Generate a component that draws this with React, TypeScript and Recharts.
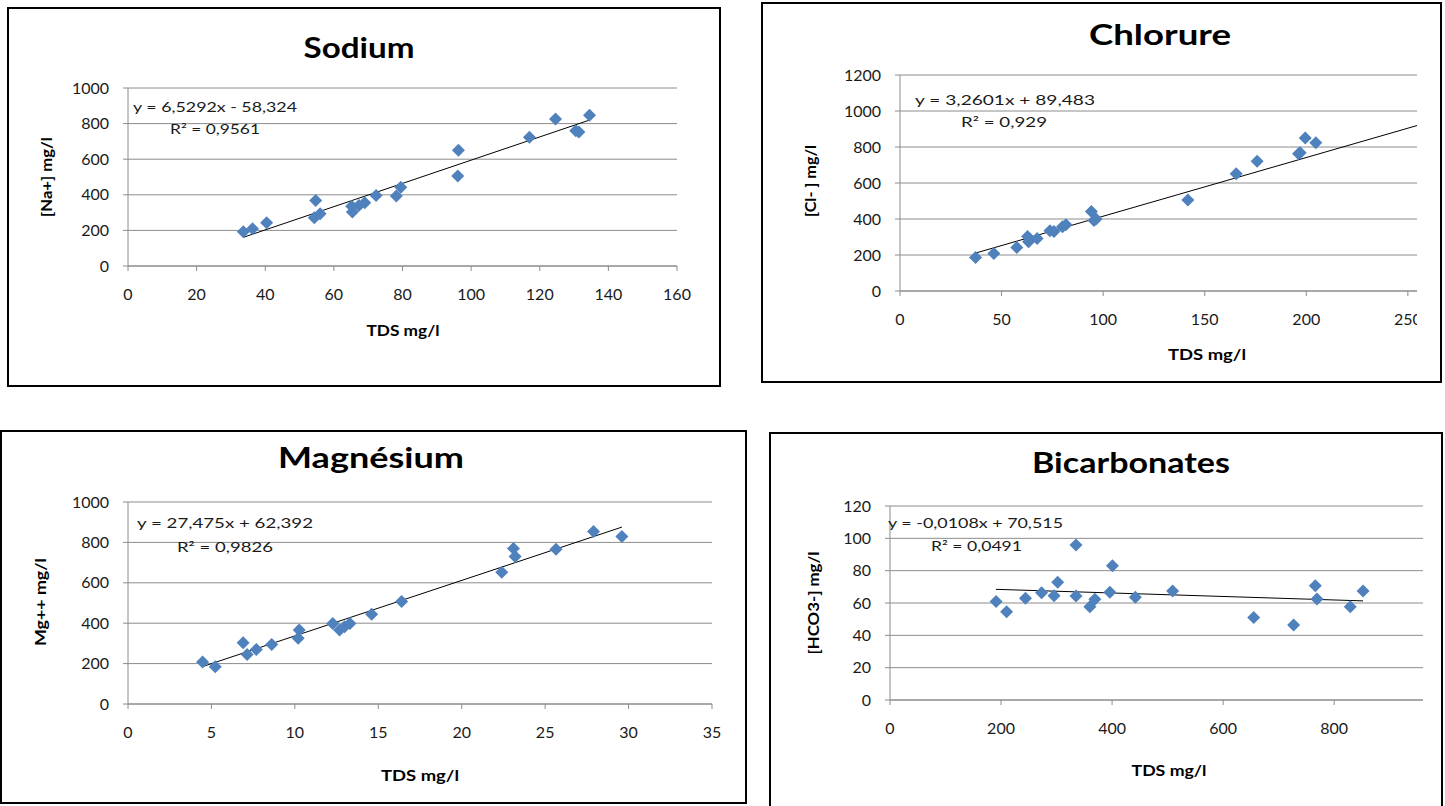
import { ScatterChart, Scatter, XAxis, YAxis, CartesianGrid, ReferenceLine } from "recharts";

// Sodium
const sodiumX = [33.6, 36.3, 40.4, 54.7, 54.3, 56.0, 65.4, 65.2, 67.3, 69.0, 72.3, 78.2, 79.5, 96.1, 96.3, 117.0, 124.6, 130.5, 131.4, 134.5];
const sodiumY = [192, 209, 243, 368, 271, 293, 303, 336, 340, 355, 396, 393, 443, 505, 650, 723, 826, 760, 753, 847];
const sodiumTicksX = [0, 20, 40, 60, 80, 100, 120, 140, 160];
const sodiumTicksY = [0, 200, 400, 600, 800, 1000];

// Chlorure
const chlorureX = [37.2, 46.2, 57.5, 62.8, 63.3, 67.5, 73.8, 75.8, 80.0, 81.7, 94.2, 95.5, 96.5, 141.7, 165.5, 175.8, 196.2, 197.0, 199.5, 204.7];
const chlorureY = [186, 208, 242, 303, 273, 292, 335, 331, 357, 368, 441, 391, 400, 506, 651, 721, 763, 768, 850, 824];
const chlorureTicksX = [0, 50, 100, 150, 200, 250];
const chlorureTicksY = [0, 200, 400, 600, 800, 1000, 1200];

// Magnésium
const magnesiumX = [4.47, 5.23, 6.9, 7.14, 7.69, 8.61, 10.2, 10.26, 12.27, 12.68, 12.98, 13.3, 14.6, 16.4, 22.4, 23.1, 23.2, 25.65, 27.9, 29.6];
const magnesiumY = [208, 184, 303, 245, 270, 295, 326, 366, 399, 366, 382, 399, 444, 507, 652, 770, 730, 766, 854, 829];
const magnesiumTicksX = [0, 5, 10, 15, 20, 25, 30, 35];
const magnesiumTicksY = [0, 200, 400, 600, 800, 1000];

// Bicarbonates
const bicarbX = [191, 210, 244, 273, 295.5, 302, 335, 335, 360, 369, 396, 400.6, 442, 509, 655, 727, 766, 769, 829, 852];
const bicarbY = [61, 54.6, 62.9, 66.4, 64.5, 72.8, 95.9, 64.3, 57.7, 62.3, 66.6, 83.1, 63.5, 67.4, 51.1, 46.4, 70.7, 62.5, 57.7, 67.4];
const bicarbTicksX = [0, 200, 400, 600, 800];
const bicarbTicksY = [0, 20, 40, 60, 80, 100, 120];

const BLUE = "#4F81BD";
const GRID = "#8c8c8c";
const INK = "#1a1a1a";
const FONT = "Lato, 'Open Sans', sans-serif";

function Diamond(props: any) {
  const { cx, cy } = props;
  const r = 6.5;
  return (
    <polygon
      points={`${cx},${cy - r} ${cx + r},${cy} ${cx},${cy + r} ${cx - r},${cy}`}
      fill={BLUE}
    />
  );
}

// text box: [x, y, length] (x is centre unless noted)
type Box = [number, number, number];

interface PanelProps {
  title: string;
  xLabel: string;
  yLabel: string;
  eq: string;
  r2: string;
  frame: { left: number; top: number; width: number; height: number };
  plot: { x0: number; x1: number; y0: number; y1: number };
  xs: number[];
  ys: number[];
  xDomain: [number, number];
  yDomain: [number, number];
  xTicks: number[];
  yTicks: number[];
  slope: number;
  intercept: number;
  trendTo?: number;
  titleBox: Box;
  yLabelBox: Box;
  xLabelBox: Box;
  eqBox: Box; // x = left
  r2Box: Box; // x = left
  clipRight?: boolean;
}

function Panel(p: PanelProps) {
  const data = p.xs.map((x, i) => ({ x, y: p.ys[i] }));
  const from = Math.min(...p.xs);
  const to = p.trendTo ?? Math.max(...p.xs);
  const chartLeft = p.plot.x0 - 90;
  const chartTop = p.plot.y0 - 12;
  // the Chlorure chart is cut at its right edge, like the original picture
  const rightPad = p.clipRight ? 0 : 26;
  const width = p.plot.x1 - chartLeft + rightPad;
  const height = p.plot.y1 - chartTop + 50;
  const tickStyle = { fill: INK, fontSize: 16, fontFamily: FONT };
  return (
    <>
      <div
        style={{
          position: "absolute",
          left: p.frame.left,
          top: p.frame.top,
          width: p.frame.width,
          height: p.frame.height,
          border: "2px solid #000",
          boxSizing: "border-box",
        }}
      />
      <div style={{ position: "absolute", left: chartLeft, top: chartTop, width, height, overflow: "hidden" }}>
        <ScatterChart width={width} height={height} margin={{ top: 12, right: rightPad, bottom: 0, left: 0 }}>
          <CartesianGrid vertical={false} stroke={GRID} strokeWidth={1} />
          <XAxis
            type="number"
            dataKey="x"
            domain={p.xDomain}
            ticks={p.xTicks}
            interval={0}
            allowDataOverflow
            height={50}
            tickSize={5}
            tickMargin={18}
            axisLine={{ stroke: GRID }}
            tickLine={{ stroke: GRID }}
            tick={tickStyle}
          />
          <YAxis
            type="number"
            dataKey="y"
            domain={p.yDomain}
            ticks={p.yTicks}
            interval={0}
            allowDataOverflow
            width={90}
            tickSize={5}
            tickMargin={14}
            axisLine={{ stroke: GRID }}
            tickLine={{ stroke: GRID }}
            tick={tickStyle}
          />
          <Scatter data={data} shape={Diamond} isAnimationActive={false} />
          <ReferenceLine
            segment={[
              { x: from, y: p.slope * from + p.intercept },
              { x: to, y: p.slope * to + p.intercept },
            ]}
            stroke="#000"
            strokeWidth={1}
          />
        </ScatterChart>
      </div>
      <svg
        width={1445}
        height={806}
        style={{ position: "absolute", left: 0, top: 0, pointerEvents: "none" }}
        fontFamily={FONT}
      >
        <text
          x={p.titleBox[0]}
          y={p.titleBox[1]}
          textAnchor="middle"
          dominantBaseline="central"
          fontSize={28}
          fontWeight={700}
          fill="#000"
          textLength={p.titleBox[2]}
          lengthAdjust="spacingAndGlyphs"
        >
          {p.title}
        </text>
        <text
          x={p.xLabelBox[0]}
          y={p.xLabelBox[1]}
          textAnchor="middle"
          dominantBaseline="central"
          fontSize={15}
          fontWeight={700}
          fill="#000"
          textLength={p.xLabelBox[2]}
          lengthAdjust="spacingAndGlyphs"
        >
          {p.xLabel}
        </text>
        <text
          transform={`translate(${p.yLabelBox[0]},${p.yLabelBox[1]}) rotate(-90)`}
          textAnchor="middle"
          dominantBaseline="central"
          fontSize={15}
          fontWeight={700}
          fill="#000"
          textLength={p.yLabelBox[2]}
          lengthAdjust="spacingAndGlyphs"
        >
          {p.yLabel}
        </text>
        <text
          x={p.eqBox[0]}
          y={p.eqBox[1]}
          dominantBaseline="central"
          fontSize={14}
          fill={INK}
          textLength={p.eqBox[2]}
          lengthAdjust="spacingAndGlyphs"
        >
          {p.eq}
        </text>
        <text
          x={p.r2Box[0]}
          y={p.r2Box[1]}
          dominantBaseline="central"
          fontSize={14}
          fill={INK}
          textLength={p.r2Box[2]}
          lengthAdjust="spacingAndGlyphs"
        >
          {p.r2}
        </text>
      </svg>
    </>
  );
}

export default function App() {
  return (
    <div style={{ position: "absolute", left: 0, top: 0, width: 1445, height: 806, overflow: "hidden", background: "#fff" }}>
      <Panel
        title="Sodium"
        xLabel="TDS mg/l"
        yLabel="[Na+] mg/l"
        eq="y = 6,5292x - 58,324"
        r2="R² = 0,9561"
        frame={{ left: 7, top: 7, width: 714, height: 380 }}
        plot={{ x0: 128, x1: 677, y0: 88, y1: 266 }}
        xs={sodiumX}
        ys={sodiumY}
        xDomain={[0, 160]}
        yDomain={[0, 1000]}
        xTicks={sodiumTicksX}
        yTicks={sodiumTicksY}
        slope={6.5292}
        intercept={-58.324}
        titleBox={[359, 47, 111]}
        yLabelBox={[46, 177, 80]}
        xLabelBox={[403, 330, 73]}
        eqBox={[133, 106, 164]}
        r2Box={[170, 128, 90]}
      />
      <Panel
        title="Chlorure"
        xLabel="TDS mg/l"
        yLabel="[Cl- ] mg/l"
        eq="y = 3,2601x + 89,483"
        r2="R² = 0,929"
        frame={{ left: 761, top: 2, width: 681, height: 381 }}
        plot={{ x0: 900, x1: 1417, y0: 75, y1: 291 }}
        xs={chlorureX}
        ys={chlorureY}
        xDomain={[0, 254.5]}
        yDomain={[0, 1200]}
        xTicks={chlorureTicksX}
        yTicks={chlorureTicksY}
        slope={3.2601}
        intercept={89.483}
        trendTo={254.5}
        clipRight
        titleBox={[1160, 34, 142]}
        yLabelBox={[810, 181, 72]}
        xLabelBox={[1207, 354, 78]}
        eqBox={[915, 99, 180]}
        r2Box={[961, 121, 86]}
      />
      <Panel
        title="Magnésium"
        xLabel="TDS mg/l"
        yLabel="Mg++ mg/l"
        eq="y = 27,475x + 62,392"
        r2="R² = 0,9826"
        frame={{ left: 0, top: 430, width: 747, height: 374 }}
        plot={{ x0: 128, x1: 712, y0: 502, y1: 704 }}
        xs={magnesiumX}
        ys={magnesiumY}
        xDomain={[0, 35]}
        yDomain={[0, 1000]}
        xTicks={magnesiumTicksX}
        yTicks={magnesiumTicksY}
        slope={27.475}
        intercept={62.392}
        titleBox={[371, 457, 186]}
        yLabelBox={[40, 602, 88]}
        xLabelBox={[420, 775, 78]}
        eqBox={[137, 522, 176]}
        r2Box={[177, 546, 96]}
      />
      <Panel
        title="Bicarbonates"
        xLabel="TDS mg/l"
        yLabel="[HCO3-] mg/l"
        eq="y = -0,0108x + 70,515"
        r2="R² = 0,0491"
        frame={{ left: 769, top: 432, width: 674, height: 390 }}
        plot={{ x0: 890, x1: 1423, y0: 506, y1: 700 }}
        xs={bicarbX}
        ys={bicarbY}
        xDomain={[0, 960]}
        yDomain={[0, 120]}
        xTicks={bicarbTicksX}
        yTicks={bicarbTicksY}
        slope={-0.0108}
        intercept={70.515}
        titleBox={[1131, 462, 198]}
        yLabelBox={[813, 603, 103]}
        xLabelBox={[1169, 770, 75]}
        eqBox={[888, 522, 175]}
        r2Box={[931, 545, 91]}
      />
    </div>
  );
}
